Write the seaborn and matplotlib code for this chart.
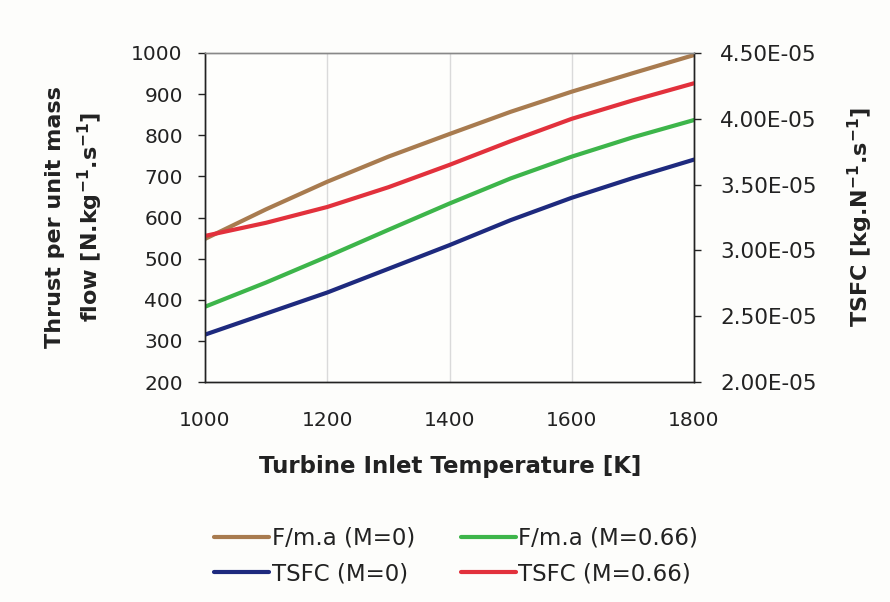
import matplotlib
matplotlib.use("Agg")
import matplotlib.pyplot as plt
import seaborn as sns
import pandas as pd
from matplotlib.lines import Line2D
from matplotlib.ticker import FuncFormatter, MultipleLocator

# ---- data ----
tit = [1000, 1100, 1200, 1300, 1400, 1500, 1600, 1700, 1800]
f_m0 = [548, 620, 687, 748, 803, 857, 906, 951, 995]
f_m066 = [383, 442, 505, 570, 634, 695, 748, 795, 837]
tsfc_m0 = [2.36e-5, 2.52e-5, 2.68e-5, 2.86e-5, 3.04e-5, 3.23e-5, 3.40e-5, 3.55e-5, 3.69e-5]
tsfc_m066 = [3.11e-5, 3.21e-5, 3.33e-5, 3.48e-5, 3.65e-5, 3.83e-5, 4.00e-5, 4.14e-5, 4.27e-5]
series_labels = ["F/m.a (M=0)", "TSFC (M=0)", "F/m.a (M=0.66)", "TSFC (M=0.66)"]

df = pd.DataFrame({"T": tit, "f0": f_m0, "f066": f_m066, "s0": tsfc_m0, "s066": tsfc_m066})

c_brown = "#A87B4F"
c_green = "#3DB54A"
c_navy = "#1E2A7E"
c_red = "#E2313C"

sns.set_theme(style="white")
plt.rcParams['font.family'] = ['DejaVu Sans']
plt.rcParams['text.color'] = '#222222'

fig = plt.figure(figsize=(8.9, 6.02), dpi=100)
fig.patch.set_facecolor("#FDFDFB")
ax = fig.add_axes([205/890, 1-382/602, (694-205)/890, (382-53)/602])
ax.set_facecolor("#FEFEFC")
ax2 = ax.twinx()

lw = 3
sns.lineplot(data=df, x="T", y="f0", ax=ax, color=c_brown, lw=lw, legend=False)
sns.lineplot(data=df, x="T", y="f066", ax=ax, color=c_green, lw=lw, legend=False)
sns.lineplot(data=df, x="T", y="s0", ax=ax2, color=c_navy, lw=lw, legend=False)
sns.lineplot(data=df, x="T", y="s066", ax=ax2, color=c_red, lw=lw, legend=False)

ax.set_xlim(1000, 1800)
ax.set_ylim(200, 1000)
ax.xaxis.set_major_locator(MultipleLocator(200))
ax.yaxis.set_major_locator(MultipleLocator(100))
ax2.set_ylim(2.0e-5, 4.5e-5)
ax2.yaxis.set_major_locator(MultipleLocator(0.5e-5))
ax2.yaxis.set_major_formatter(FuncFormatter(lambda v, p: f"{v:.2E}"))

ax.grid(axis="x", color="#DADADA", lw=1)
ax.grid(axis="y", visible=False)
ax2.grid(False)

ax.set_xlabel("")
ax.set_ylabel("")
ax2.set_ylabel("")

for a in (ax, ax2):
    a.tick_params(axis="both", direction="out", length=5, width=1, color="#222222",
                  labelsize=14.5, labelcolor="#222222")
    for side, sp in a.spines.items():
        sp.set_color("#222222")
        sp.set_linewidth(1)
    a.spines["top"].set_color("#888888")
ax.tick_params(axis="x", pad=16)
ax.tick_params(axis="y", pad=11)
ax2.tick_params(axis="y", pad=14, labelsize=15.5)
ax2.yaxis.tick_right()

fig.text(75/890, 1-217/602, "Thrust per unit mass\nflow [N.kg$^{\\mathbf{-1}}$.s$^{\\mathbf{-1}}$]",
         rotation=90, ha="center", va="center", fontsize=16, fontweight="bold", linespacing=1.45)
fig.text(860/890, 1-217/602, "TSFC [kg.N$^{\\mathbf{-1}}$.s$^{\\mathbf{-1}}$]",
         rotation=90, ha="center", va="center", fontsize=16, fontweight="bold")
fig.text(450/890, 1-466/602, "Turbine Inlet Temperature [K]",
         ha="center", va="center", fontsize=16.5, fontweight="bold")

handles = [Line2D([], [], color=c_brown, lw=lw),
           Line2D([], [], color=c_navy, lw=lw),
           Line2D([], [], color=c_green, lw=lw),
           Line2D([], [], color=c_red, lw=lw)]
fig.legend(handles, series_labels, ncol=2, loc="center",
           bbox_to_anchor=(456/890, 1-556/602), frameon=False, fontsize=16.5,
           handlelength=2.4, handletextpad=0.1, columnspacing=2.0, labelspacing=0.55)

fig.savefig("out.png", dpi=100, facecolor=fig.get_facecolor())
